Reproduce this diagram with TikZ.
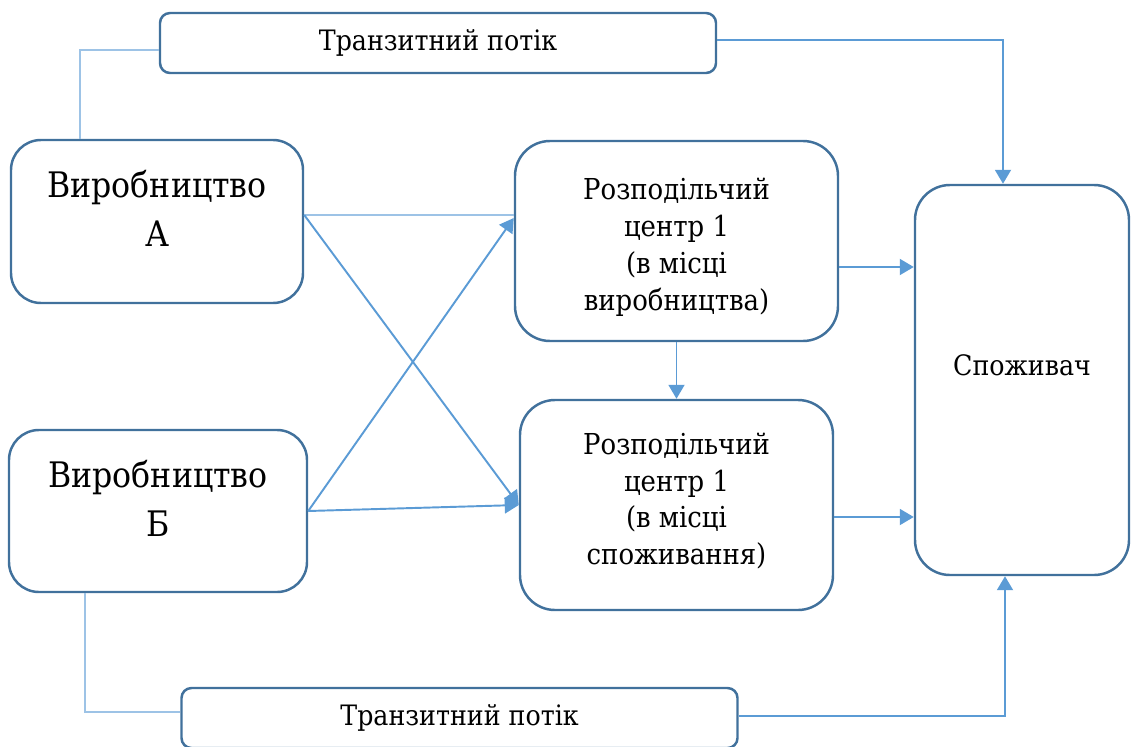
\documentclass[tikz,border=0pt]{standalone}
\usepackage{fontspec}
\setmainfont{DejaVu Serif Condensed}
\usetikzlibrary{arrows.meta,calc}
\definecolor{boxline}{HTML}{41719C}
\definecolor{arrowblue}{HTML}{5B9BD5}
\definecolor{linkblue}{HTML}{9DC3E6}

\begin{document}
\begin{tikzpicture}[x=0.2mm, y=-0.2mm,
  block/.style={rectangle, rounded corners=7mm, draw=boxline, line width=1.4pt, fill=white, inner sep=0pt, align=center},
  transit/.style={block, rounded corners=2mm, minimum width=111.2mm, minimum height=12mm, font=\fontsize{16}{20}\selectfont},
  flow/.style={-{Triangle[length=2.8mm,width=3.2mm]}, line width=1.1pt, arrowblue},
  link/.style={line width=0.9pt, linkblue}]
  \useasboundingbox (0,0) rectangle (1134,747);

  % Transit boxes
  \node[transit] (transitTop) at (438,43) {Транзитний потік};
  \node[transit] (transitBot) at (459.5,718) {Транзитний потік};

  % Production
  \node[block, rounded corners=6mm, minimum width=58.4mm, minimum height=32.6mm] (prodA) at (157,221.5) {};
  \node[font=\fontsize{20}{28}\selectfont, align=center] (prodAtxt) at ([yshift=2.6mm]prodA.center) {Виробництво\\А};
  \node[block, rounded corners=6mm, minimum width=59.6mm, minimum height=32.4mm] (prodB) at (158,511) {};
  \node[font=\fontsize{20}{28}\selectfont, align=center] (prodBtxt) at ([yshift=2.6mm]prodB.center) {Виробництво\\Б};

  % Distribution centres
  \node[block, minimum width=64.6mm, minimum height=40mm] (dcProd) at (676.5,241) {};
  \node[font=\fontsize{16.4}{21}\selectfont, align=center] (dcProdtxt) at ([yshift=-1.2mm]dcProd.center) {Розподільчий\\центр 1\\(в місці\\виробництва)};
  \node[block, minimum width=62.6mm, minimum height=42mm] (dcCons) at (676.5,505) {};
  \node[font=\fontsize{16.4}{21}\selectfont, align=center] (dcConstxt) at ([yshift=0.8mm]dcCons.center) {Розподільчий\\центр 1\\(в місці\\споживання)};

  % Consumer
  \node[block, minimum width=42.8mm, minimum height=78mm] (consumer) at (1022,380) {};
  \node[font=\fontsize{16}{22}\selectfont] (consumertxt) at ([yshift=3mm]consumer.center) {Споживач};

  % Transit flows
  \draw[link] ([xshift=-15.4mm]prodA.north) |- ([yshift=-1.4mm]transitTop.west);
  \draw[flow] ([yshift=0.6mm]transitTop.east) -| ([xshift=-3.8mm]consumer.north);
  \draw[link] ([xshift=-14.6mm]prodB.south) |- ([yshift=1.2mm]transitBot.west);
  \draw[flow] ([yshift=0.4mm]transitBot.east) -| ([xshift=-3.4mm]consumer.south);

  % Production to distribution
  \coordinate (outA) at ([yshift=1.3mm]prodA.east);
  \draw[link, line width=1.1pt] (outA) -- (outA -| dcProd.west);
  \draw[flow] (outA) -- (dcCons.west);
  \draw[flow] (prodB.east) -- ([yshift=4.6mm]dcProd.west);
  \draw[flow] (prodB.east) -- (dcCons.west);
  \draw[flow] (dcProd.south) -- (dcCons.north);

  % Distribution to consumer
  \coordinate (outP) at ([yshift=-5.2mm]dcProd.east);
  \draw[flow] (outP) -- (outP -| consumer.west);
  \coordinate (outC) at ([yshift=-2.4mm]dcCons.east);
  \draw[flow] (outC) -- (outC -| consumer.west);
\end{tikzpicture}
\end{document}
